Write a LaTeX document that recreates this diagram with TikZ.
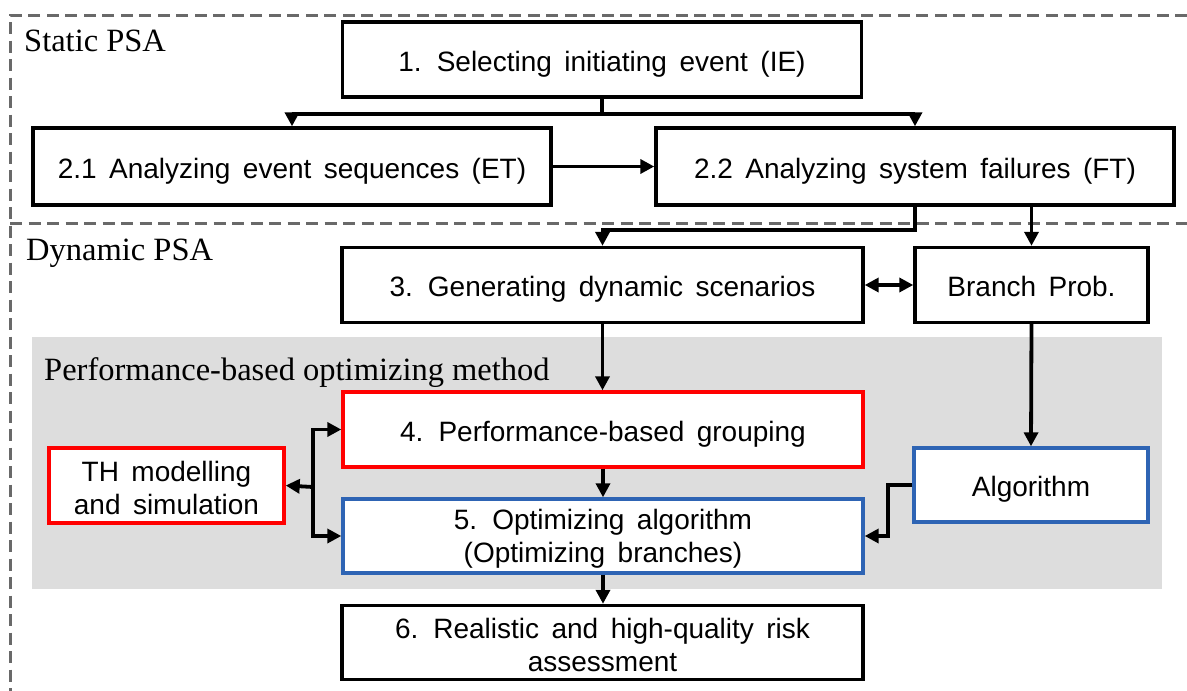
\documentclass[tikz,border=0pt]{standalone}
\usepackage{fontspec}
\setmainfont[WordSpace=1.6]{Liberation Sans}
\newfontfamily\labelserif{Liberation Serif}
\usetikzlibrary{arrows.meta,calc}
\definecolor{frameg}{RGB}{105,105,105}
\definecolor{panelg}{RGB}{221,221,221}
\definecolor{boxblue}{RGB}{46,100,180}
\newcommand{\firstlinestrut}{\rule{0pt}{26pt}}
\begin{document}
\begin{tikzpicture}[x=1pt,y=-1pt,
  box/.style={draw=black, line width=3.4pt, fill=white, align=center,
    inner sep=0pt, font=\fontsize{28}{33}\selectfont,
    text height=29pt, text depth=6pt},
  twoline/.style={text height=, text depth=},
  redbox/.style={box, draw=red},
  bluebox/.style={box, draw=boxblue},
  tipA/.tip={Triangle[length=14pt,width=14pt]},
  arr/.style={line width=3.8pt, line join=miter, -tipA},
  dblarr/.style={line width=3.8pt, tipA-tipA},
  section/.style={anchor=base west, inner sep=0pt,
    font=\labelserif\fontsize{32.5}{36}\selectfont},
  frameline/.style={draw=frameg, line width=3pt, dash pattern=on 12pt off 6.5pt}
]
\useasboundingbox (0,0) rectangle (1187,691);
\clip (0,0) rectangle (1187,691);

% outer dashed frame and the static / dynamic separator
\draw[frameline] (1187,15) -- (10,15) -- (10,691);
\draw[frameline] (10,223) -- (1187,223);

% grey panel of the optimizing method
\fill[panelg] (32,337) rectangle (1162,589);

% section labels
\node[section] (lstatic) at (24,51) {Static PSA};
\node[section] (ldyn) at (26,260) {Dynamic PSA};
\node[section] (lperf) at (44,380) {Performance-based optimizing method};

% process boxes
\node[box, minimum width=519pt, minimum height=75pt] (b1) at (602,59.5)
  {1. Selecting initiating event (IE)};
\node[box, minimum width=518pt, minimum height=77pt] (b21) at (292,166.5)
  {2.1 Analyzing event sequences (ET)};
\node[box, minimum width=518pt, minimum height=77pt] (b22) at (915,166.5)
  {2.2 Analyzing system failures (FT)};
\node[box, minimum width=521pt, minimum height=75pt] (b3) at (602.5,285)
  {3. Generating dynamic scenarios};
\node[box, minimum width=233pt, minimum height=75pt] (bp) at (1031.5,285)
  {Branch Prob.};
\node[redbox, minimum width=520pt, minimum height=75pt] (b4) at (603,429.5)
  {4. Performance-based grouping};
\node[bluebox, twoline, minimum width=520pt, minimum height=74pt] (b5) at (603,536)
  {\firstlinestrut 5. Optimizing algorithm\\(Optimizing branches)};
\node[redbox, twoline, minimum width=235pt, minimum height=75pt] (th) at (166.5,485.5)
  {\firstlinestrut TH modelling\\and simulation};
\node[bluebox, minimum width=234pt, minimum height=74pt] (alg) at (1031,485)
  {Algorithm};
\node[box, twoline, minimum width=521pt, minimum height=74pt] (b6) at (602.5,642.5)
  {\firstlinestrut 6. Realistic and high-quality risk\\assessment};

% connectors
\draw[arr] (b1.south) -- ++(0,15) -| (b21.north);
\draw[arr] (b1.south) -- ++(0,15) -| (b22.north);
\draw[arr] (b21.east) -- (b22.west);
\draw[arr] (b22.south) -- ++(0,23) -| (b3.north);
\draw[arr] (b22.south -| bp.north) -- (bp.north);
\draw[dblarr] (b3.east) -- (bp.west);
\draw[arr] (b3.south) -- (b3.south |- b4.north);
\draw[arr] (bp.south) -- (alg.north);
\draw[arr] (b4.south) -- (b5.north);
\draw[arr] (b5.south) -- (b5.south |- b6.north);

\coordinate (fork) at (313,487);
\draw[arr] (fork) -- (th.east);
\draw[arr] (fork) |- (b4.west);
\draw[arr] (fork) |- (b5.west);

\draw[arr] (alg.west) -- ++(-24,0) |- (b5.east);
\end{tikzpicture}
\end{document}
